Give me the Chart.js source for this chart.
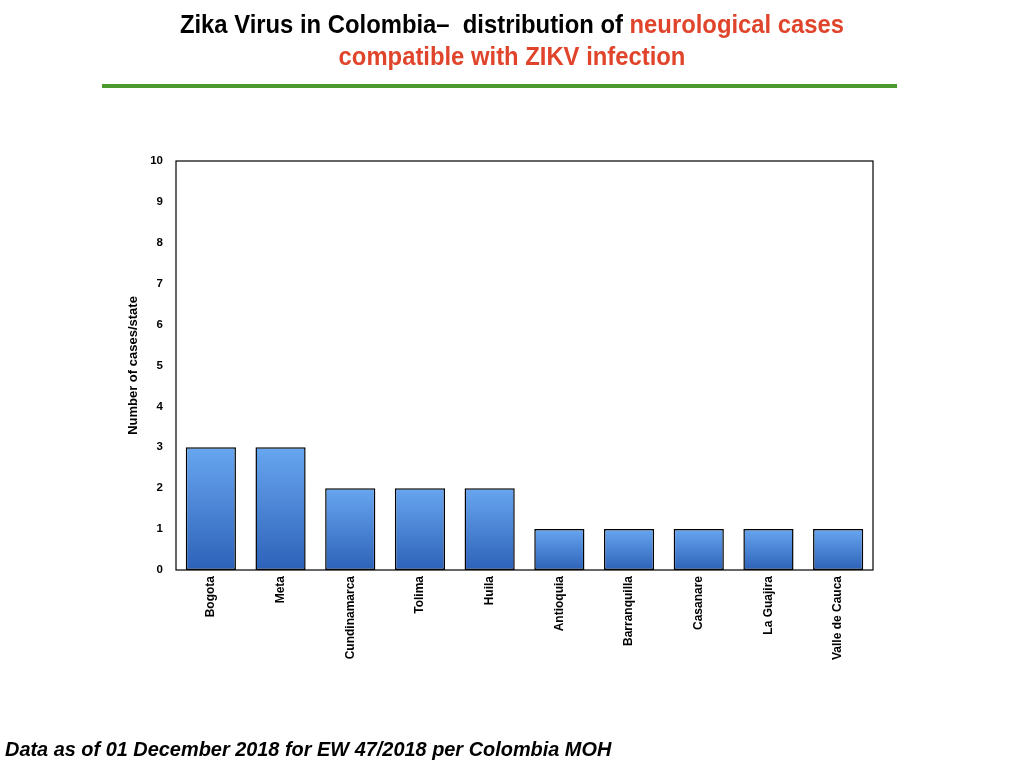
<!DOCTYPE html>
<html>
<head>
<meta charset="utf-8">
<script src="https://cdn.jsdelivr.net/npm/chart.js@4"></script>
<style>
  html, body { margin: 0; padding: 0; background: #fff; }
  .page { position: relative; width: 1024px; height: 768px; overflow: hidden; }
  .title {
    position: absolute; left: 0; top: 8px; width: 1024px; text-align: center;
    font-family: "Liberation Sans", Arial, sans-serif;
    font-weight: bold; font-size: 25px; line-height: 32px; color: #000;
    transform: scaleX(0.953); transform-origin: 512px 0;
  }
  .title .red { color: #e0452c; }
  .rule { position: absolute; left: 102px; top: 84px; width: 795px; height: 4px; background: #4a9a30; }
  .note {
    position: absolute; left: 5px; top: 737px;
    font-family: "Liberation Sans", Arial, sans-serif;
    font-weight: bold; font-style: italic; font-size: 21px; color: #000;
    transform: scaleX(0.948); transform-origin: 0 0; white-space: nowrap;
  }
  canvas { position: absolute; left: 0; top: 0; }
</style>
</head>
<body>
<div class="page">
  <canvas id="chart" width="1024" height="768"></canvas>
  <div class="title">Zika Virus in Colombia&#8211;&nbsp; distribution of <span class="red">neurological cases</span><br><span class="red">compatible with ZIKV infection</span></div>
  <div class="rule"></div>
  <div class="note">Data as of 01 December 2018 for EW 47/2018 per Colombia MOH</div>
</div>
<script>
const states = ['Bogota', 'Meta', 'Cundinamarca', 'Tolima', 'Huila', 'Antioquia',
  'Barranquilla', 'Casanare', 'La Guajira', 'Valle de Cauca'];
const cases = [3, 3, 2, 2, 2, 1, 1, 1, 1, 1];
const yTicks = [0, 1, 2, 3, 4, 5, 6, 7, 8, 9, 10];

// gradient per bar, light on top, dark at the base
function barFill(ctx) {
  const chart = ctx.chart;
  const y = chart.scales.y;
  if (!chart.chartArea || !y || ctx.parsed == null) return '#4a86d8';
  const top = y.getPixelForValue(ctx.parsed.y);
  const bottom = y.getPixelForValue(0);
  const g = chart.ctx.createLinearGradient(0, top, 0, bottom);
  g.addColorStop(0, '#68a6f0');
  g.addColorStop(1, '#2d62b8');
  return g;
}

const frame = {
  id: 'frame',
  afterDatasetsDraw(chart) {
    const { ctx, chartArea: a } = chart;
    ctx.save();
    ctx.strokeStyle = '#000';
    ctx.lineWidth = 1.2;
    ctx.strokeRect(a.left, a.top, a.right - a.left, a.bottom - a.top);
    ctx.restore();
  }
};

new Chart(document.getElementById('chart'), {
  type: 'bar',
  data: {
    labels: states,
    datasets: [{
      data: cases,
      backgroundColor: barFill,
      borderColor: '#000',
      borderWidth: 1.5,
      borderSkipped: false,
      categoryPercentage: 1,
      barPercentage: 0.72
    }]
  },
  options: {
    responsive: false,
    animation: false,
    layout: { padding: { left: 120, top: 161, right: 151, bottom: 0 } },
    plugins: { legend: { display: false }, tooltip: { enabled: false } },
    scales: {
      x: {
        grid: { display: false },
        border: { display: false },
        afterFit: s => { s.height = 198; },
        ticks: {
          color: '#000', maxRotation: 90, minRotation: 90, autoSkip: false, padding: -2,
          font: { family: 'Liberation Sans', weight: 'bold', size: 12 }
        }
      },
      y: {
        min: 0, max: 10,
        grid: { display: false },
        border: { display: false },
        afterFit: s => { s.width = 56; },
        afterBuildTicks: s => { s.ticks = yTicks.map(v => ({ value: v })); },
        ticks: {
          color: '#000', padding: 5,
          font: { family: 'Liberation Sans', weight: 'bold', size: 11.5 }
        },
        title: {
          display: true, text: 'Number of cases/state', color: '#000',
          padding: { top: 6, bottom: 0 },
          font: { family: 'Liberation Sans', weight: 'bold', size: 13 }
        }
      }
    }
  },
  plugins: [frame]
});
</script>
</body>
</html>
